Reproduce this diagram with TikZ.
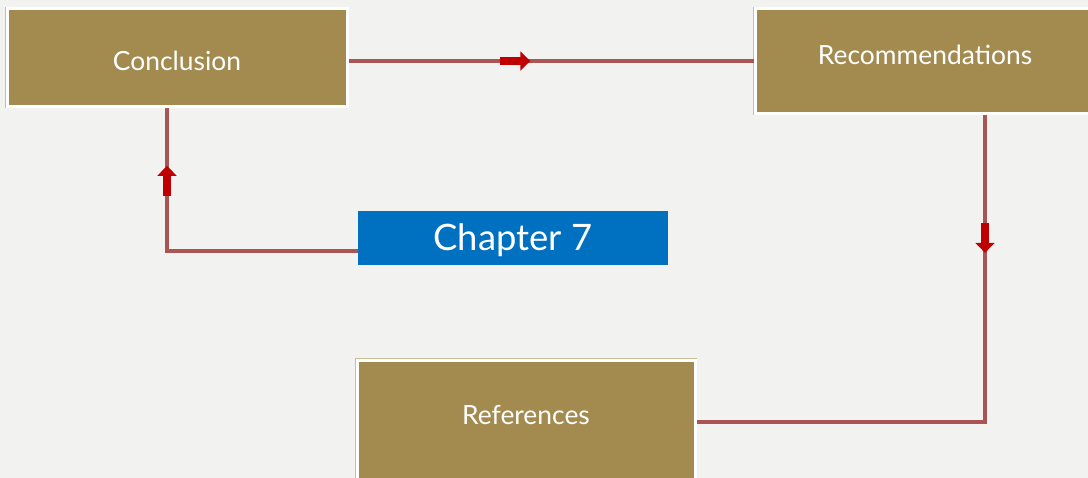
\documentclass[tikz,border=0pt]{standalone}
\usepackage{fontspec}
\setmainfont{Lato}
\usepackage{xcolor}
\usetikzlibrary{arrows.meta}

\definecolor{boxfill}{HTML}{A38B50}
\definecolor{boxline}{HTML}{CDBE98}
\definecolor{chapblue}{HTML}{0070C0}
\definecolor{linkred}{HTML}{AA5553}
\definecolor{markred}{HTML}{C00000}
\definecolor{paper}{HTML}{F2F2F0}

\begin{document}
\begin{tikzpicture}[x=0.75pt,y=-0.75pt,
  box/.style={rectangle,fill=boxfill,draw=white,line width=2.25pt,
    preaction={draw=boxline,line width=3.6pt},inner sep=0pt},
  boxtext/.style={text=white,font=\fontsize{19.8}{21}\selectfont,inner sep=0pt},
  chapbox/.style={rectangle,fill=chapblue,text=white,inner sep=0pt,
    font=\fontsize{27.3}{29}\selectfont},
  link/.style={draw=linkred,line width=3pt},
  marker/.style={draw=markred,line width=6pt,
    -{Triangle[length=7.5pt 0,width=14pt 0]}}]
\fill[paper](0,0)rectangle(1088,478);
\useasboundingbox(0,0)rectangle(1088,478);

\node[box,minimum width=255pt,minimum height=72.75pt](con)at(177,57.5){};
\node[boxtext](contxt)at([yshift=-2.6pt]con.center){Conclusion};
\node[box,minimum width=255pt,minimum height=78pt](rec)at(925,61){};
\node[boxtext](rectxt)at([yshift=4.5pt]rec.center){Recommendations};
\node[box,minimum width=253.5pt,minimum height=93pt](ref)at(526,422){};
\node[boxtext](reftxt)at([yshift=5.25pt]ref.center){References};
\node[chapbox,minimum width=232.5pt,minimum height=40.5pt](chap)at(513,238){};
\node[chapbox](chaptxt)at([yshift=-2pt]chap.center){Chapter 7};

% connectors
\draw[link](con.east |- rec.west)--(rec.west)
  coordinate[pos=0.375](a1) coordinate[pos=0.449](a2);
\draw[link]([xshift=45pt]rec.south)|-(ref.east)
  coordinate[pos=0.176](b1) coordinate[pos=0.225](b2);
\draw[link]([yshift=-9.75pt]chap.west)-|([xshift=-7.5pt]con.south)
  coordinate[pos=0.693](c1) coordinate[pos=0.797](c2);

% direction marks
\draw[marker](a1)--(a2);
\draw[marker](b1)--(b2);
\draw[marker](c1)--(c2);
\end{tikzpicture}
\end{document}
